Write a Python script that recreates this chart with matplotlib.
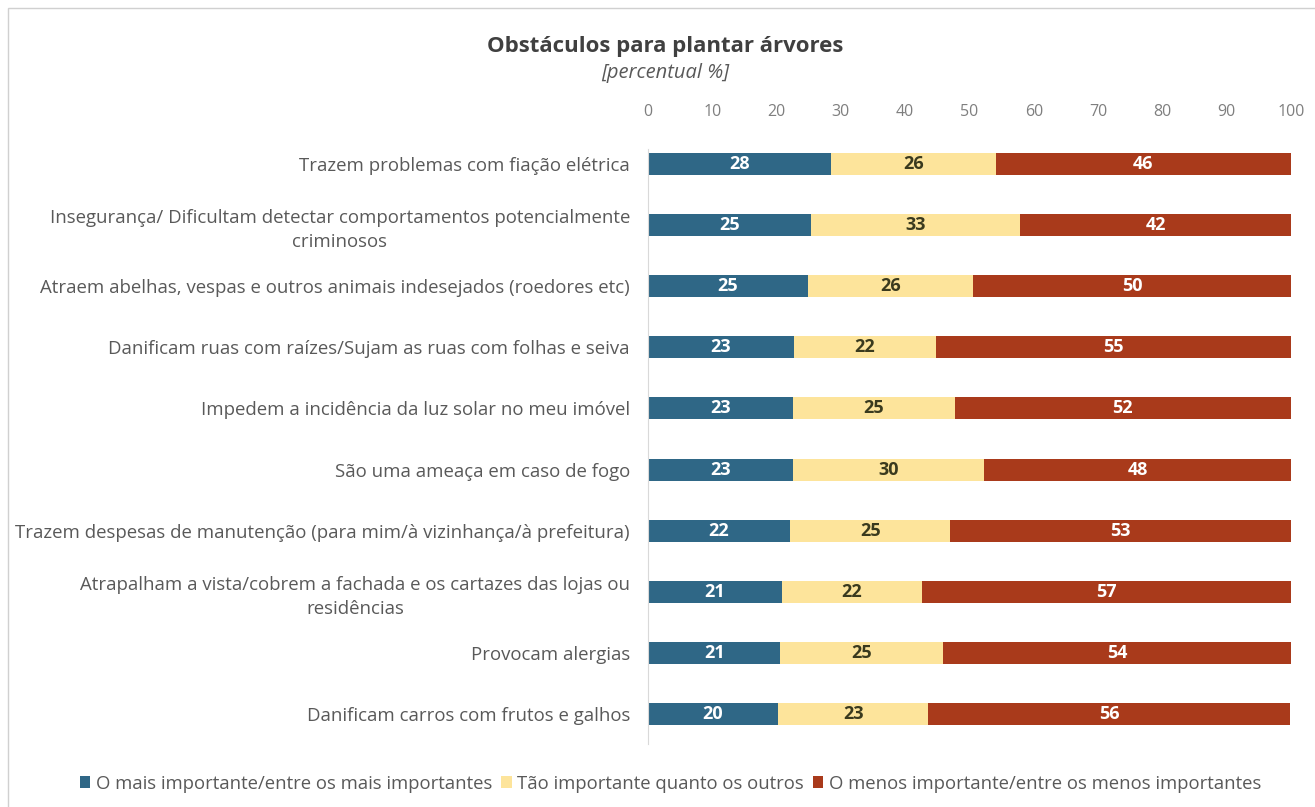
import numpy as np
import matplotlib
matplotlib.use("Agg")
import matplotlib.pyplot as plt
from matplotlib.patches import Rectangle

plt.rcParams['font.family'] = ['Open Sans', 'DejaVu Sans']

categories = [
    "Trazem problemas com fiação elétrica",
    "Insegurança/ Dificultam detectar comportamentos potencialmente\ncriminosos",
    "Atraem abelhas, vespas e outros animais indesejados (roedores etc)",
    "Danificam ruas com raízes/Sujam as ruas com folhas e seiva",
    "Impedem a incidência da luz solar no meu imóvel",
    "São uma ameaça em caso de fogo",
    "Trazem despesas de manutenção (para mim/à vizinhança/à prefeitura)",
    "Atrapalham a vista/cobrem a fachada e os cartazes das lojas ou\nresidências",
    "Provocam alergias",
    "Danificam carros com frutos e galhos",
]
mais_importante = [28.4, 25.3, 24.9, 22.7, 22.6, 22.6, 22.1, 20.8, 20.6, 20.2]
tao_importante = [25.7, 32.6, 25.6, 22.1, 25.1, 29.7, 24.9, 21.8, 25.3, 23.4]
menos_importante = [45.9, 42.1, 49.6, 55.2, 52.3, 47.7, 53.0, 57.4, 54.1, 56.3]
series_names = [
    "O mais importante/entre os mais importantes",
    "Tão importante quanto os outros",
    "O menos importante/entre os menos importantes",
]
colors = ["#2f6786", "#fde49b", "#a93a1b"]
text_colors = ["white", "#3a3a1e", "white"]

fig = plt.figure(figsize=(13.15, 8.07), dpi=100)
ax = fig.add_axes([0.4928, 0.0775, 0.4889, 0.7571])

y = np.arange(len(categories))
left = np.zeros(len(categories))
for vals, name, c, tc in zip([mais_importante, tao_importante, menos_importante],
                             series_names, colors, text_colors):
    vals = np.array(vals)
    bars = ax.barh(y, vals, left=left, height=0.36, color=c, label=name)
    for b, v in zip(bars, vals):
        ax.text(b.get_x() + b.get_width() / 2, b.get_y() + b.get_height() / 2,
                f"{v:.0f}", ha='center', va='center', color=tc,
                fontsize=13, fontweight='bold')
    left += vals

ax.set_xlim(0, 100)
ax.set_ylim(len(categories) - 0.5, -0.5)
ax.set_xticks(np.arange(0, 101, 10))
ax.xaxis.tick_top()
ax.tick_params(axis='x', length=0, pad=10, labelsize=11.5, labelcolor='#7f7f7f')
ax.set_yticks(y)
ax.set_yticklabels(categories)
ax.tick_params(axis='y', length=0, pad=13, labelsize=13.4, labelcolor='#595959')
for t in ax.get_yticklabels():
    t.set_multialignment('center')
    t.set_linespacing(1.45)

for s in ['top', 'right', 'bottom']:
    ax.spines[s].set_visible(False)
ax.spines['left'].set_color('#d9d9d9')
ax.spines['left'].set_bounds(len(categories) - 0.5, -0.25)

fig.text(0.506, 0.942, "Obstáculos para plantar árvores", ha='center', va='center',
         fontsize=16, fontweight='bold', color='#404040')
fig.text(0.506, 0.909, "[percentual %]", ha='center', va='center',
         fontsize=14.5, fontstyle='italic', color='#595959')

fig.legend(loc='center', bbox_to_anchor=(0.51, 0.029), ncol=3, frameon=False,
           fontsize=13.3, handlelength=0.55, handleheight=0.55, handletextpad=0.3,
           columnspacing=0.5, labelcolor='#595959')

fig.patches.append(Rectangle((0.006, -0.01), 0.995, 1.0, transform=fig.transFigure,
                             fill=False, edgecolor='#d0d0d0', linewidth=1))

fig.savefig("out.png", dpi=100)
